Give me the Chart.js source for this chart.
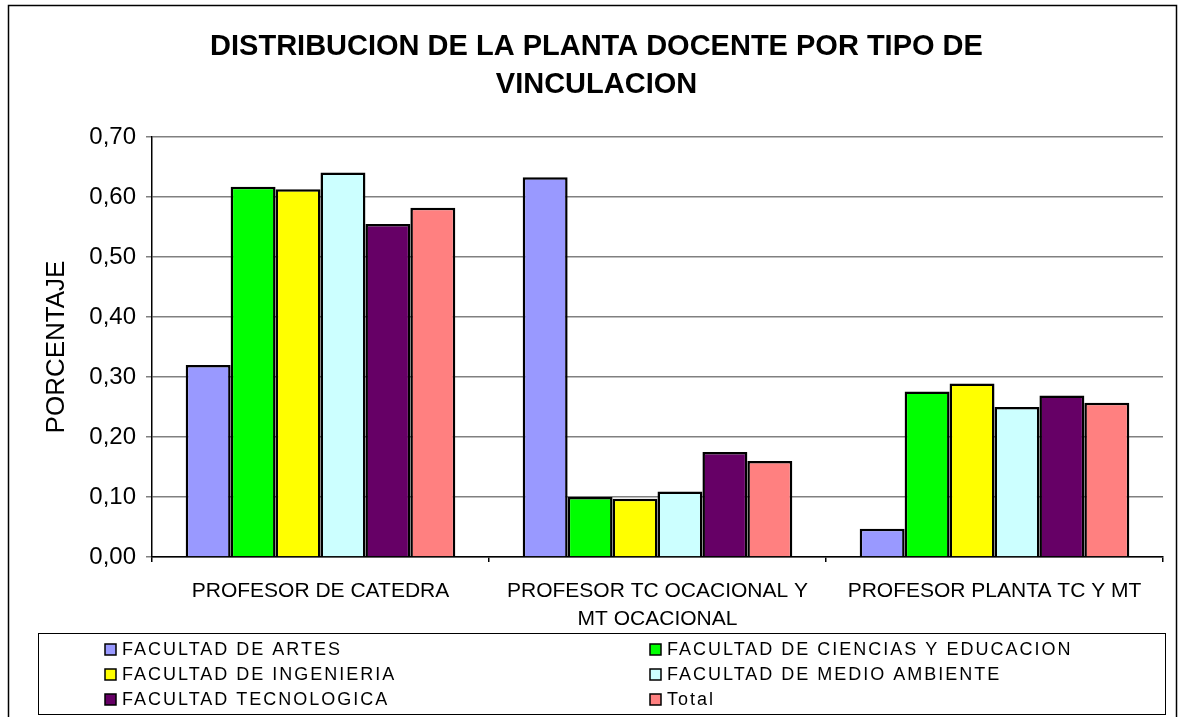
<!DOCTYPE html>
<html>
<head>
<meta charset="utf-8">
<script src="https://cdn.jsdelivr.net/npm/chart.js@4"></script>
<style>
    html, body { margin: 0; padding: 0; background: #ffffff; }
    #wrap { width: 1185px; height: 717px; }
</style>
</head>
<body>
<div id="wrap"><canvas id="myChart" width="1185" height="717"></canvas></div>
<script>
let categorias = [
    'PROFESOR DE CATEDRA',
    ['PROFESOR TC OCACIONAL Y', 'MT OCACIONAL'],
    'PROFESOR PLANTA TC Y MT'
];

let artes      = [0.32, 0.633, 0.047];
let ciencias   = [0.617, 0.100, 0.276];
let ingenieria = [0.613, 0.097, 0.289];
let medio      = [0.641, 0.109, 0.250];
let tecno      = [0.555, 0.175, 0.269];
let total      = [0.582, 0.160, 0.257];

let nombres = [
    'FACULTAD DE ARTES',
    'FACULTAD DE CIENCIAS Y EDUCACION',
    'FACULTAD DE INGENIERIA',
    'FACULTAD DE MEDIO AMBIENTE',
    'FACULTAD TECNOLOGICA',
    'Total'
];
let colores = ['#9999FF', '#00FF00', '#FFFF00', '#CCFFFF', '#660066', '#FF8080'];

let yTicks = [0, 0.1, 0.2, 0.3, 0.4, 0.5, 0.6, 0.7];

const fuente = "'Liberation Sans', Arial, sans-serif";

// marco exterior y leyenda en dos columnas
const marcoYLeyenda = {
    id: 'marcoYLeyenda',
    beforeDraw(chart) {
        let ctx = chart.ctx;
        ctx.save();
        ctx.fillStyle = '#ffffff';
        ctx.fillRect(0, 0, chart.width, chart.height);
        ctx.restore();
    },
    afterDraw(chart) {
        let ctx = chart.ctx;
        ctx.save();
        ctx.strokeStyle = '#000000';
        ctx.lineWidth = 1.5;
        ctx.strokeRect(8.5, 5.5, 1168, 730);

        // caja de la leyenda
        let bx = 38, by = 633, bw = 1127, bh = 81;
        ctx.fillStyle = '#ffffff';
        ctx.fillRect(bx, by, bw, bh);
        ctx.lineWidth = 1;
        ctx.strokeStyle = '#000000';
        ctx.strokeRect(bx + 0.5, by + 0.5, bw, bh);

        ctx.font = '18px ' + fuente;
        ctx.letterSpacing = '2px';
        ctx.textBaseline = 'middle';
        chart.data.datasets.forEach(function(ds, i) {
            let col = i % 2;
            let row = Math.floor(i / 2);
            let x = col == 0 ? 105 : 650;
            let y = by + 16 + row * 25;
            ctx.fillStyle = ds.backgroundColor;
            ctx.fillRect(x, y - 5, 11, 11);
            ctx.lineWidth = 1.5;
            ctx.strokeStyle = '#000000';
            ctx.strokeRect(x, y - 5, 11, 11);
            ctx.fillStyle = '#000000';
            ctx.fillText(ds.label, x + 17, y + 1);
        });
        ctx.restore();
    }
};

let datos = [artes, ciencias, ingenieria, medio, tecno, total];

new Chart(document.getElementById('myChart'),
    {
        type: 'bar',
        data:
        {
            labels: categorias,
            datasets: datos.map(function(d, i) {
                return {
                    label: nombres[i],
                    data: d,
                    backgroundColor: colores[i],
                    borderColor: '#000000',
                    borderWidth: 2.5,
                    categoryPercentage: 0.8,
                    barPercentage: 1.0
                };
            })
        },
        options:
        {
            responsive: false,
            animation: false,
            layout: {
                padding: { left: 30, right: 22, top: 0, bottom: 90 }
            },
            plugins: {
                legend: { display: false },
                tooltip: { enabled: false },
                title: {
                    display: true,
                    text: ['DISTRIBUCION DE LA PLANTA DOCENTE POR TIPO DE', 'VINCULACION'],
                    color: '#000000',
                    font: { family: fuente, size: 29, weight: 'bold', lineHeight: 1.31 },
                    padding: { top: 28, bottom: 33 }
                }
            },
            scales: {
                x: {
                    afterFit: function(axis) { axis.height = 70; },
                    grid: {
                        display: true,
                        drawOnChartArea: false,
                        offset: true,
                        color: '#000000',
                        lineWidth: 1.5,
                        tickLength: 5
                    },
                    border: { color: '#000000', width: 1.5 },
                    ticks: {
                        color: '#000000',
                        font: { family: fuente, size: 21, lineHeight: 1.3 },
                        maxRotation: 0,
                        autoSkip: false,
                        padding: 16
                    }
                },
                y: {
                    min: 0,
                    max: 0.7,
                    afterFit: function(axis) { axis.width = 122; },
                    afterBuildTicks: function(axis) {
                        axis.ticks = yTicks.map(function(v) { return { value: v }; });
                    },
                    grid: {
                        color: '#808080',
                        lineWidth: 1.5,
                        tickLength: 6
                    },
                    border: { color: '#000000', width: 1.5 },
                    title: {
                        display: true,
                        text: 'PORCENTAJE',
                        color: '#000000',
                        font: { family: fuente, size: 26 },
                        padding: { top: 11, bottom: 0 }
                    },
                    ticks: {
                        color: '#000000',
                        font: { family: fuente, size: 24 },
                        padding: 10,
                        callback: function(v) { return v.toFixed(2).replace('.', ','); }
                    }
                }
            }
        },
        plugins: [marcoYLeyenda]
    }
);
</script>
</body>
</html>
